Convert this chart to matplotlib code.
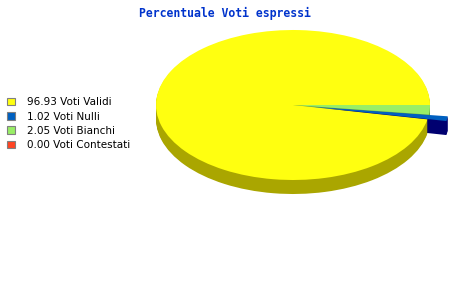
import matplotlib.pyplot as plt
from matplotlib.patches import Patch

# data
labels = ['Voti Validi', 'Voti Nulli', 'Voti Bianchi', 'Voti Contestati']
values = [96.93, 1.02, 2.05, 0.00]
colors = ['#FFFF10', '#0060C0', '#99EE66', '#FF4422']
side_colors = ['#AAA600', '#000070', '#66A044', '#A02810']
explode = [0, 0.14, 0, 0]

W, H = 450, 300
fig = plt.figure(figsize=(4.5, 3), dpi=100)
fig.patch.set_facecolor('white')

# pie box (ellipse) in pixel coords: center (293, 105), radii 137 x 75
cx, cy, rx, ry = 293, 105, 137, 75
depth = 14
ax = fig.add_axes([(cx - rx) / W, (H - cy - ry) / H, 2 * rx / W, 2 * ry / H])

# side of the 3d pie: stack darker copies going down
dy = 2.0 / (2 * ry)
for k in range(depth, 0, -1):
    wedges, _ = ax.pie(values, colors=side_colors, explode=explode, startangle=0,
                       counterclock=True, center=(0, -k * dy), radius=1,
                       wedgeprops=dict(linewidth=0))
    for w in wedges:
        w.set_clip_on(False)

# top face
wedges, _ = ax.pie(values, colors=colors, explode=explode, startangle=0,
                   counterclock=True, radius=1,
                   wedgeprops=dict(linewidth=0))
for w in wedges:
    w.set_clip_on(False)

ax.set_aspect('auto')
ax.set_xlim(-1, 1)
ax.set_ylim(-1, 1)
ax.axis('off')

fig.text(225 / W, 1 - 13 / H, 'Percentuale Voti espressi', ha='center', va='center',
         family='DejaVu Sans Mono', fontweight='bold', fontsize=8.3, color='#0033CC')

handles = [Patch(facecolor=c, edgecolor='#808080', linewidth=0.8) for c in colors]
leg_labels = [f'{v:.2f} {l}' for v, l in zip(values, labels)]
fig.legend(handles, leg_labels, loc='upper left', bbox_to_anchor=(3 / W, 1 - 93 / H),
           frameon=False, fontsize=7.5, handlelength=0.75, handleheight=0.75,
           handletextpad=1.2, labelspacing=0.42, borderaxespad=0)

fig.savefig('out.png', dpi=100)
